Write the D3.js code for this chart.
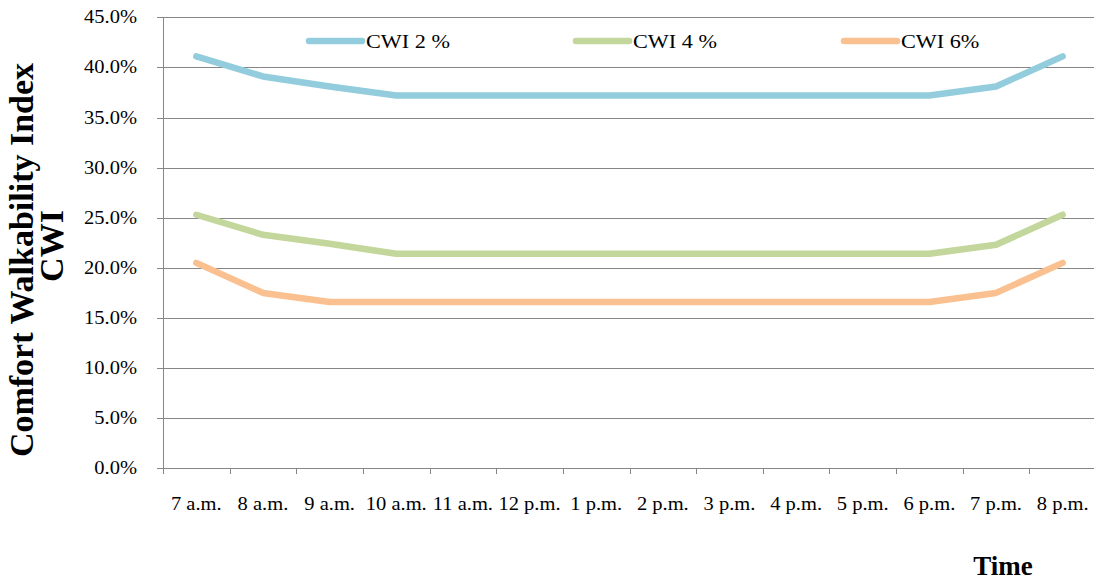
<!DOCTYPE html>
<html>
<head>
<meta charset="utf-8">
<title>Comfort Walkability Index</title>
<style>
  body { margin: 0; background: #fff; }
  text { font-family: "Liberation Serif", "Times New Roman", serif; fill: #000; }
  .grid line { stroke: #868686; stroke-width: 1; }
  .axis line, .axis path { stroke: #868686; stroke-width: 1; fill: none; }
  .title { font-weight: bold; font-size: 34px; }
</style>
</head>
<body>
<script src="https://cdnjs.cloudflare.com/ajax/libs/d3/7.8.5/d3.min.js"></script>
<script>
// categories (hours)
var hours = ['7 a.m.','8 a.m.','9 a.m.','10 a.m.','11 a.m.','12 p.m.','1 p.m.',
             '2 p.m.','3 p.m.','4 p.m.','5 p.m.','6 p.m.','7 p.m.','8 p.m.'];

// series values, percent
var cwi2 = [41.1, 39.1, 38.1, 37.2, 37.2, 37.2, 37.2, 37.2, 37.2, 37.2, 37.2, 37.2, 38.1, 41.1];
var cwi4 = [25.3, 23.3, 22.4, 21.4, 21.4, 21.4, 21.4, 21.4, 21.4, 21.4, 21.4, 21.4, 22.3, 25.3];
var cwi6 = [20.5, 17.5, 16.6, 16.6, 16.6, 16.6, 16.6, 16.6, 16.6, 16.6, 16.6, 16.6, 17.5, 20.5];

var seriesNames = ['CWI 2 %', 'CWI 4 %', 'CWI 6%'];
var seriesColors = ['#93cddd', '#c3d69b', '#fac090'];

var yTicks = [0, 5, 10, 15, 20, 25, 30, 35, 40, 45];

var W = 1094, H = 580;
var pLeft = 163, pRight = 1096, pTop = 17.3, pBottom = 468.3;
var sx = 1.14; // the picture is stretched sideways, so is its text

var svg = d3.select('body').append('svg')
  .attr('width', W)
  .attr('height', H);

var x = d3.scaleBand().domain(hours).range([pLeft, pRight]).padding(0);
var y = d3.scaleLinear().domain([0, 45]).range([pBottom, pTop]);

// stretched text helper
function stext(g, tx, ty, str, anchor, size) {
  return g.append('text')
    .attr('transform', 'translate(' + tx + ',' + ty + ') scale(' + sx + ',1)')
    .attr('text-anchor', anchor)
    .style('font-size', size + 'px')
    .text(str);
}

// gridlines
svg.append('g').attr('class', 'grid')
  .selectAll('line')
  .data(yTicks.slice(1))
  .enter().append('line')
    .attr('x1', pLeft).attr('x2', 1094)
    .attr('y1', function(d){ return Math.round(y(d)) + 0.5; })
    .attr('y2', function(d){ return Math.round(y(d)) + 0.5; });

// y axis
var yAxis = svg.append('g').attr('class', 'axis');
yAxis.append('line')
  .attr('x1', pLeft + 0.5).attr('x2', pLeft + 0.5)
  .attr('y1', Math.round(y(45))).attr('y2', Math.round(y(0)) + 0.5);
yAxis.selectAll('line.tk')
  .data(yTicks)
  .enter().append('line').attr('class', 'tk')
    .attr('x1', pLeft - 6).attr('x2', pLeft)
    .attr('y1', function(d){ return Math.round(y(d)) + 0.5; })
    .attr('y2', function(d){ return Math.round(y(d)) + 0.5; });
yTicks.forEach(function(d){
  stext(svg, 137, y(d) + 6, d.toFixed(1) + '%', 'end', 18);
});

// x axis
var xAxis = svg.append('g').attr('class', 'axis');
xAxis.append('line')
  .attr('x1', pLeft).attr('x2', 1094)
  .attr('y1', Math.round(y(0)) + 0.5).attr('y2', Math.round(y(0)) + 0.5);
var edges = hours.map(function(h){ return x(h); }).concat([pRight]);
xAxis.selectAll('line.tk')
  .data(edges)
  .enter().append('line').attr('class', 'tk')
    .attr('x1', function(d){ return Math.round(d) + 0.5; })
    .attr('x2', function(d){ return Math.round(d) + 0.5; })
    .attr('y1', Math.round(y(0))).attr('y2', Math.round(y(0)) + 6);
hours.forEach(function(h){
  stext(svg, x(h) + x.bandwidth() / 2, 510, h, 'middle', 18);
});

// lines
var line = d3.line()
  .x(function(d, i){ return x(hours[i]) + x.bandwidth() / 2; })
  .y(function(d){ return y(d); });

[cwi2, cwi4, cwi6].forEach(function(s, i){
  svg.append('path')
    .datum(s)
    .attr('d', line)
    .attr('fill', 'none')
    .attr('stroke', seriesColors[i])
    .attr('stroke-width', 6.5)
    .attr('stroke-linecap', 'round')
    .attr('stroke-linejoin', 'round');
});

// legend
var legX = [309, 576, 844];
seriesNames.forEach(function(n, i){
  svg.append('line')
    .attr('x1', legX[i]).attr('x2', legX[i] + 53)
    .attr('y1', 41).attr('y2', 41)
    .attr('stroke', seriesColors[i])
    .attr('stroke-width', 6.5)
    .attr('stroke-linecap', 'round');
  stext(svg, legX[i] + 57, 48, n, 'start', 19.5);
});

// axis titles
var yt = svg.append('text')
  .attr('class', 'title')
  .attr('text-anchor', 'middle')
  .attr('transform', 'translate(33,260) rotate(-90)');
yt.append('tspan').attr('x', 0).attr('dy', 0).text('Comfort Walkability Index');
yt.append('tspan').attr('x', 14).attr('dy', 30).text('CWI');

svg.append('text')
  .attr('class', 'title')
  .attr('text-anchor', 'middle')
  .attr('x', 1003).attr('y', 575)
  .style('font-size', '27px')
  .text('Time');
</script>
</body>
</html>
